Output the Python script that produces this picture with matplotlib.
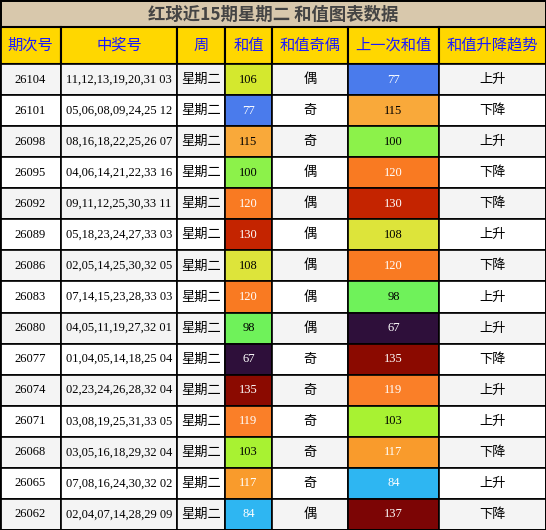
import matplotlib
matplotlib.use("Agg")
import matplotlib.pyplot as plt
from matplotlib.patches import Rectangle

title = "红球近15期星期二 和值图表数据"
headers = ["期次号", "中奖号", "周", "和值", "和值奇偶", "上一次和值", "和值升降趋势"]
issues = ["26104","26101","26098","26095","26092","26089","26086","26083","26080","26077","26074","26071","26068","26065","26062"]
numbers = ["11,12,13,19,20,31 03","05,06,08,09,24,25 12","08,16,18,22,25,26 07","04,06,14,21,22,33 16",
           "09,11,12,25,30,33 11","05,18,23,24,27,33 03","02,05,14,25,30,32 05","07,14,15,23,28,33 03",
           "04,05,11,19,27,32 01","01,04,05,14,18,25 04","02,23,24,26,28,32 04","03,08,19,25,31,33 05",
           "03,05,16,18,29,32 04","07,08,16,24,30,32 02","02,04,07,14,28,29 09"]
week = ["星期二"] * 15
sums = [106, 77, 115, 100, 120, 130, 108, 120, 98, 67, 135, 119, 103, 117, 84]
parity = ["偶","奇","奇","偶","偶","偶","偶","偶","偶","奇","奇","奇","奇","奇","偶"]
prev = [77, 115, 100, 120, 130, 108, 120, 98, 67, 135, 119, 103, 117, 84, 137]
trend = ["上升","下降","上升","下降","下降","上升","下降","上升","上升","下降","上升","上升","下降","上升","下降"]

colors = {106:"#d4e82e",77:"#4a7bec",115:"#f9a93a",100:"#8cf24a",120:"#f97a22",130:"#c42400",
          108:"#dde43a",98:"#6ff25a",67:"#2e0f3a",135:"#8b0a00",119:"#fa7f28",103:"#a8f232",
          117:"#f99b2c",84:"#2eb6f2",137:"#7c0505"}
dark_text = {106,115,100,108,98,103}

W, H = 546, 530
fig = plt.figure(figsize=(W/100, H/100), dpi=100)
ax = fig.add_axes([0, 0, 1, 1])
ax.set_xlim(0, W); ax.set_ylim(H, 0); ax.axis("off")

cjk = ["Noto Sans CJK SC", "DejaVu Sans"]
serif = ["Liberation Serif", "Noto Sans CJK SC"]
cols = [0, 61, 177, 225, 272, 348, 439, 546]
title_h, head_h = 27, 37
row_h = (H - title_h - head_h) / 15

ax.add_patch(Rectangle((0, 0), W, title_h, facecolor="#d8c8ac", edgecolor="black", lw=2))
ax.text(W/2, title_h/2 + 1, title, ha="center", va="center", fontsize=12.5, fontweight="bold",
        color="#444444", family=["Noto Sans CJK SC", "Liberation Serif"])

y0 = title_h
for i, h in enumerate(headers):
    ax.add_patch(Rectangle((cols[i], y0), cols[i+1]-cols[i], head_h, facecolor="#ffd700", edgecolor="black", lw=1.5))
    ax.text((cols[i]+cols[i+1])/2, y0 + head_h/2, h, ha="center", va="center", fontsize=11, color="#1a1aff", family=cjk)

for r in range(15):
    y = title_h + head_h + r*row_h
    bg = "#f4f4f4" if r % 2 == 0 else "white"
    vals = [issues[r], numbers[r], week[r], str(sums[r]), parity[r], str(prev[r]), trend[r]]
    for c, v in enumerate(vals):
        fc = bg; tc = "black"
        if c == 3:
            fc = colors[sums[r]]; tc = "black" if sums[r] in dark_text else "white"
        if c == 5:
            fc = colors[prev[r]]; tc = "black" if prev[r] in dark_text else "white"
        ax.add_patch(Rectangle((cols[c], y), cols[c+1]-cols[c], row_h, facecolor=fc, edgecolor="black", lw=1.2))
        fam = cjk if c in (2, 4, 6) else serif
        fs = 9.5 if c in (2, 4, 6) else 9
        ax.text((cols[c]+cols[c+1])/2, y + row_h/2, v, ha="center", va="center", fontsize=fs, color=tc, family=fam)

ax.add_patch(Rectangle((0, 0), W, H, facecolor="none", edgecolor="black", lw=2))
fig.savefig("out.png", dpi=100)
